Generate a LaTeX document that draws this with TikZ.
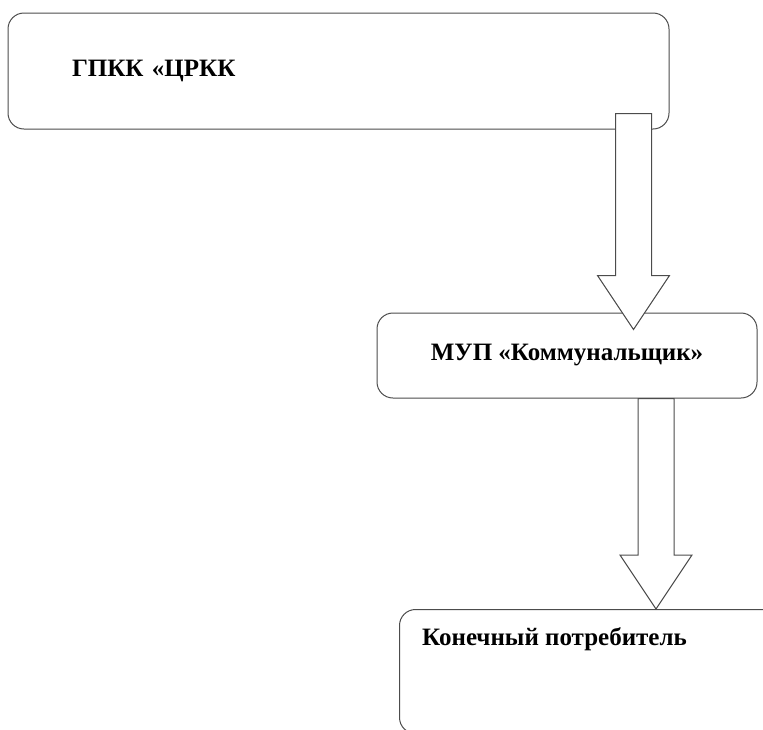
\documentclass[tikz,border=0pt]{standalone}
\usepackage{fontspec}
\setmainfont{Liberation Serif}
\usetikzlibrary{calc}

\tikzstyle{box}=[draw=black!70,line width=1pt,rounded corners=16pt,fill=white,font=\bfseries\fontsize{25}{30}\selectfont]
\tikzstyle{fatarrow}=[draw=black!70,line width=1pt,fill=white,line join=miter]
\def\shaft{18pt}
\def\head{36pt}
\def\headlen{54pt}

% wide hollow arrow from #1 down to the tip #2
\newcommand{\flowdown}[2]{%
	\draw[fatarrow] let \p1=(#1), \p2=(#2) in
		(\x1-\shaft,\y1) -- (\x1+\shaft,\y1) -- (\x1+\shaft,\y2+\headlen) -- (\x1+\head,\y2+\headlen)
		-- (\x1,\y2) -- (\x1-\head,\y2+\headlen) -- (\x1-\shaft,\y2+\headlen) -- cycle;
}

\begin{document}
\begin{tikzpicture}[x=1pt,y=-1pt]
			\clip (0,0) rectangle (763,729);
			\node[box,minimum width=661pt,minimum height=116pt,text width=533pt,inner xsep=64pt,align=left] (gpkk) at (338.5,71) {ГПКК «ЦРКК};
			\node[box,minimum width=380pt,minimum height=85pt] (mup) at (567,355.5) {МУП «Коммунальщик»};
			\node[box,minimum width=420pt,minimum height=124pt,anchor=north west] (user) at (399,609) {};
			\node[font=\bfseries\fontsize{25}{30}\selectfont,inner sep=0pt,anchor=base west] (usertext) at ($(user.north west)+(23,36)$) {Конечный потребитель};
			% arrows
			\coordinate (a1) at ($(gpkk.south east)+(-36,-16)$);
			\coordinate (a1tip) at ($(a1 |- mup.north)+(0,17)$);
			\flowdown{a1}{a1tip}
			\coordinate (a2) at ($(mup.south east)+(-101.5,0)$);
			\coordinate (a2tip) at (a2 |- user.north);
			\flowdown{a2}{a2tip}
		\end{tikzpicture}
\end{document}
